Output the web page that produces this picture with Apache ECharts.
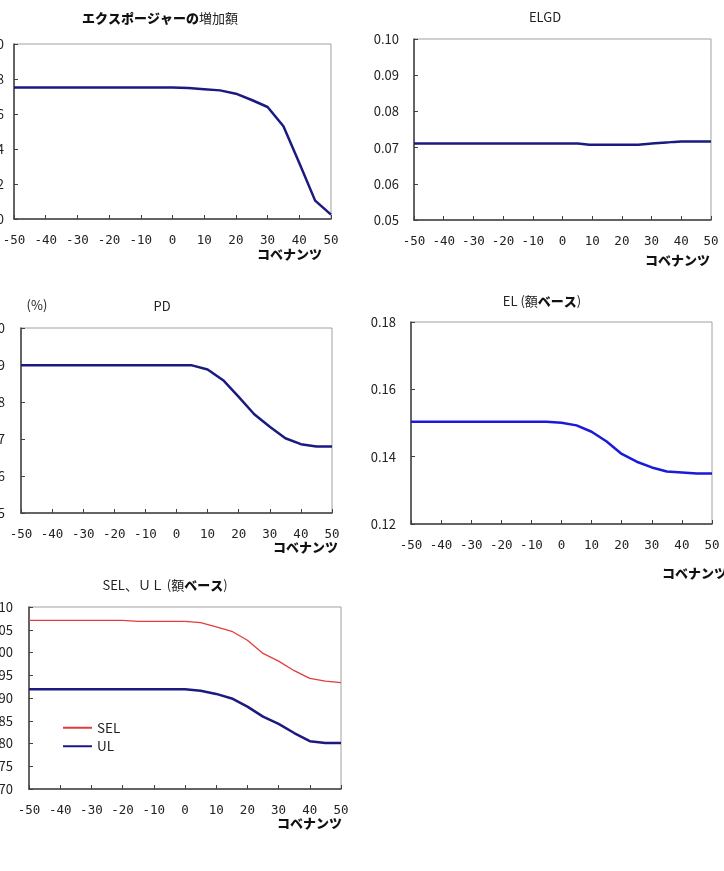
<!DOCTYPE html>
<html><head><meta charset="utf-8">
<script src="https://cdn.jsdelivr.net/npm/echarts@6/dist/echarts.min.js"></script>
<style>html,body{margin:0;padding:0;background:#fff}#c{width:724px;height:871px}</style>
</head><body><div id="c"></div>
<script>
const covenants = [-50,-45,-40,-35,-30,-25,-20,-15,-10,-5,0,5,10,15,20,25,30,35,40,45,50];
const exposureIncrease = [0.752,0.752,0.752,0.752,0.752,0.752,0.752,0.752,0.752,0.752,0.752,0.748,0.742,0.735,0.716,0.68,0.64,0.53,0.32,0.105,0.025];
const elgd = [0.0711,0.0711,0.0711,0.0711,0.0711,0.0711,0.0711,0.0711,0.0711,0.0711,0.0711,0.0711,0.0708,0.0708,0.0708,0.0708,0.0711,0.0714,0.0717,0.0717,0.0717];
const pd = [0.899,0.899,0.899,0.899,0.899,0.899,0.899,0.899,0.899,0.899,0.899,0.899,0.888,0.859,0.814,0.767,0.733,0.702,0.686,0.68,0.68];
const el = [0.1504,0.1504,0.1504,0.1504,0.1504,0.1504,0.1504,0.1504,0.1504,0.1504,0.1501,0.1493,0.1474,0.1445,0.1408,0.1385,0.1368,0.1356,0.1353,0.135,0.135];
const sel = [1.0708,1.0708,1.0708,1.0708,1.0708,1.0708,1.0708,1.0686,1.0686,1.0686,1.0686,1.0657,1.0562,1.0467,1.027,0.998,0.981,0.960,0.943,0.937,0.934];
const ul = [0.919,0.919,0.919,0.919,0.919,0.919,0.919,0.919,0.919,0.919,0.919,0.916,0.909,0.899,0.881,0.859,0.843,0.823,0.805,0.801,0.801];

const FONT = '"Noto Sans CJK JP", "Noto Sans", sans-serif';
const MONO = '"DejaVu Sans Mono", monospace';
const NAVY = '#1a1a80';
const grids = [
  {left:14, top:44, width:317, height:175},
  {left:414, top:39, width:297, height:181},
  {left:21, top:328, width:311, height:185},
  {left:411, top:322, width:301, height:202},
  {left:29, top:607, width:312, height:182}
];
const yCfg = [
  {min:0, max:1.0, interval:0.2, dec:1, margin:10},
  {min:0.05, max:0.10, interval:0.01, dec:2, margin:15},
  {min:0.5, max:1.0, interval:0.1, dec:1, margin:16},
  {min:0.12, max:0.18, interval:0.02, dec:2, margin:15},
  {min:0.70, max:1.10, interval:0.05, dec:2, margin:16}
];
const pair = (ys) => covenants.map((x,i)=>[x, ys[i]]);

const option = {
  animation:false,
  grid: grids.map(g=>Object.assign({show:true, borderColor:'#a0a0a0', borderWidth:1, outerBoundsMode:'none', containLabel:false}, g)),
  xAxis: grids.map((g,i)=>({
    type:'value', gridIndex:i, min:-50, max:50, interval:10,
    axisLine:{show:true, onZero:false, lineStyle:{color:'#404040', width:1.5}},
    axisTick:{show:true, inside:true, length:4, lineStyle:{color:'#404040'}},
    splitLine:{show:false},
    axisLabel:{color:'#222', fontSize:12.5, fontFamily:MONO, margin:15}
  })),
  yAxis: yCfg.map((c,i)=>({
    type:'value', gridIndex:i, min:c.min, max:c.max, interval:c.interval,
    axisLine:{show:true, onZero:false, lineStyle:{color:'#404040', width:1.5}},
    axisTick:{show:true, inside:true, length:4, lineStyle:{color:'#404040'}},
    splitLine:{show:false},
    axisLabel:{color:'#222', fontSize:13, fontFamily:FONT, margin:c.margin, formatter:v=>v.toFixed(c.dec)}
  })),
  legend:{
    orient:'vertical', left:57, top:716, itemWidth:29, itemHeight:14, itemGap:5,
    itemStyle:{opacity:0},
    textStyle:{fontSize:13.5, fontFamily:FONT, color:'#222'},
    data:['SEL','UL']
  },
  series:[
    {type:'line', xAxisIndex:0, yAxisIndex:0, data:pair(exposureIncrease), symbol:'none', lineStyle:{color:NAVY, width:2.5}, itemStyle:{color:NAVY}},
    {type:'line', xAxisIndex:1, yAxisIndex:1, data:pair(elgd), symbol:'none', smooth:0.3, lineStyle:{color:NAVY, width:2.5}, itemStyle:{color:NAVY}},
    {type:'line', xAxisIndex:2, yAxisIndex:2, data:pair(pd), symbol:'none', lineStyle:{color:NAVY, width:2.5}, itemStyle:{color:NAVY}},
    {type:'line', xAxisIndex:3, yAxisIndex:3, data:pair(el), symbol:'none', lineStyle:{color:'#1a1ad8', width:2.5}, itemStyle:{color:'#1a1ad8'}},
    {name:'SEL', type:'line', xAxisIndex:4, yAxisIndex:4, data:pair(sel), symbol:'none', lineStyle:{color:'#e23c3c', width:1.3}, itemStyle:{color:'#e23c3c'}},
    {name:'UL', type:'line', xAxisIndex:4, yAxisIndex:4, data:pair(ul), symbol:'none', lineStyle:{color:NAVY, width:2.5}, itemStyle:{color:NAVY}}
  ],
  graphic:[]
};

const rich = {
  b:{fontFamily:FONT, fontSize:13, fontWeight:900, fill:'#111', color:'#111'},
  n:{fontFamily:FONT, fontSize:13, fontWeight:'normal', fill:'#222', color:'#222'}
};
function txt(x,y,text,align){
  return {type:'text', x:x, y:y, style:{text:text, rich:rich, align:align||'center', verticalAlign:'middle', font:'13px '+FONT, fill:'#222'}};
}
function cov(xRight,y){
  return {type:'text', x:xRight, y:y, style:{text:'コベナンツ', align:'right', verticalAlign:'middle', font:'900 13px '+FONT, fill:'#111'}};
}
option.graphic = [
  txt(160,18,'{b|エクスポージャーの}{n|増加額}'),
  txt(545,17,'{n|ELGD}'),
  txt(162,306,'{n|PD}'),
  txt(37,305,'{n|(%)}'),
  txt(542,301,'{n|EL (額}{b|ベース}{n|)}'),
  txt(165,585,'{n|SEL、ＵＬ (額}{b|ベース}{n|)}'),
  cov(322,254),
  cov(710,260),
  cov(338,547),
  cov(727,573),
  cov(342,823)
];

const chart = echarts.init(document.getElementById('c'), null, {renderer:'canvas'});
chart.setOption(option);
</script>
</body></html>
